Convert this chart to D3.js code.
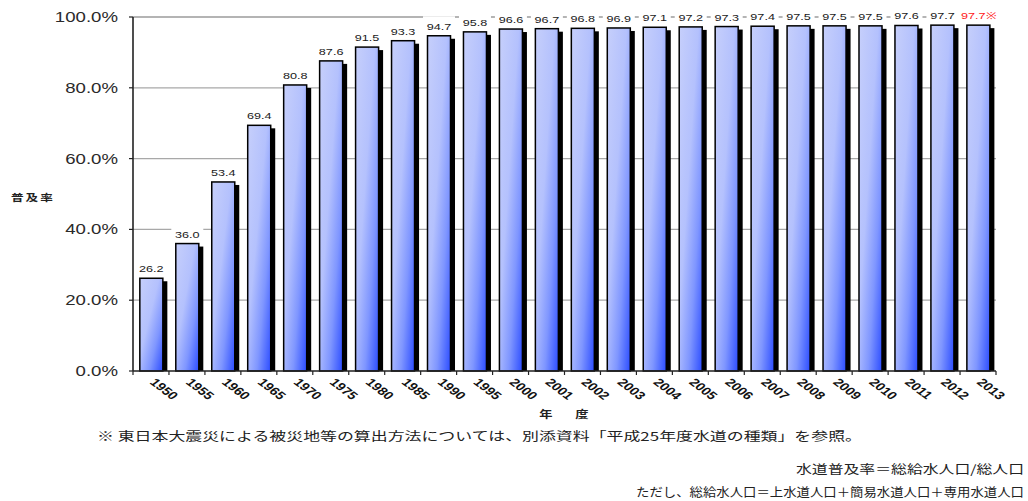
<!DOCTYPE html>
<html>
<head>
<meta charset="utf-8">
<script src="https://cdn.jsdelivr.net/npm/d3@7"></script>
<style>
  html, body { margin: 0; padding: 0; background: #fff; }
  svg { display: block; }
</style>
</head>
<body>
<svg id="chart" width="1028" height="501"></svg>
<script>
// 年度ごとの水道普及率 (%)
const categories = ["1950","1955","1960","1965","1970","1975","1980","1985","1990","1995","2000",
  "2001","2002","2003","2004","2005","2006","2007","2008","2009","2010","2011","2012","2013"];
const values = [26.2,36.0,53.4,69.4,80.8,87.6,91.5,93.3,94.7,95.8,96.6,
  96.7,96.8,96.9,97.1,97.2,97.3,97.4,97.5,97.5,97.5,97.6,97.7,97.7];
const valueNotes = ["","","","","","","","","","","","","","","","","","","","","","","","※"];
const yTicks = [0, 20, 40, 60, 80, 100];
const yTitle = "普及率";
const xTitle = ["年", "度"];
const footnote = "※ 東日本大震災による被災地等の算出方法については、別添資料「平成25年度水道の種類」を参照。";
const formulaLines = ["水道普及率＝総給水人口/総人口", "ただし、総給水人口＝上水道人口＋簡易水道人口＋専用水道人口"];

const svg = d3.select("#chart");
const SX = 1.33; // horizontal stretch of the lettering

const plot = { left: 133, right: 996, top: 17, bottom: 371 };
const x = d3.scaleBand().domain(categories).range([plot.left, plot.right]);
const y = d3.scaleLinear().domain([0, 100]).range([plot.bottom, plot.top]);
const bw = x.bandwidth();
const barW = bw * 0.64, barOff = bw * 0.19;

// gradient for the bars
const defs = svg.append("defs");
const grad = defs.append("linearGradient").attr("id", "barFill")
  .attr("x1", 0).attr("y1", 0).attr("x2", 1).attr("y2", 1);
grad.append("stop").attr("offset", 0).attr("stop-color", "#c6cffb");
grad.append("stop").attr("offset", 0.42).attr("stop-color", "#b4c1fd");
grad.append("stop").attr("offset", 0.7).attr("stop-color", "#7f96ff");
grad.append("stop").attr("offset", 1).attr("stop-color", "#2b4cff");

// stretched text helper
function stext(parent, tx, ty, str, opts = {}) {
  const g = parent.append("g")
    .attr("transform", `translate(${tx},${ty}) scale(${opts.sx || SX},1)` + (opts.rotate ? ` rotate(${opts.rotate})` : ""));
  const t = g.append("text")
    .attr("x", 0).attr("y", 0)
    .attr("text-anchor", opts.anchor || "start")
    .attr("font-family", opts.family || "'Liberation Sans', Arial, sans-serif")
    .attr("font-size", opts.size || 12)
    .attr("font-weight", opts.weight || "normal")
    .attr("fill", opts.fill || "#222")
    .text(str);
  return { g, t };
}

// gridlines
svg.append("g").selectAll("line").data(yTicks.filter(d => d > 0)).join("line")
  .attr("x1", plot.left).attr("x2", plot.right)
  .attr("y1", d => y(d)).attr("y2", d => y(d))
  .attr("stroke", d => d === 100 ? "#6a6a6a" : "#a8a8a8").attr("stroke-width", 1.2);

// y axis
const yAxis = svg.append("g");
yAxis.append("line").attr("x1", plot.left).attr("x2", plot.left)
  .attr("y1", y(100)).attr("y2", y(0)).attr("stroke", "#222").attr("stroke-width", 1.6);
yAxis.selectAll("line.tick").data(yTicks).join("line").attr("class", "tick")
  .attr("x1", plot.left - 4).attr("x2", plot.left)
  .attr("y1", d => y(d)).attr("y2", d => y(d)).attr("stroke", "#222").attr("stroke-width", 1.2);
yTicks.forEach(d => {
  stext(yAxis, 118, y(d) + 5, d.toFixed(1) + "%", { anchor: "end", size: 14, fill: "#2a2a2a" });
});

// bars: shadow, then gradient body
const bars = svg.append("g");
bars.selectAll("rect.shadow").data(values).join("rect").attr("class", "shadow")
  .attr("x", (d, i) => x(categories[i]) + barOff + 4.5)
  .attr("y", d => y(d) + 3)
  .attr("width", barW)
  .attr("height", d => y(0) - y(d) - 3)
  .attr("fill", "#000");
bars.selectAll("rect.bar").data(values).join("rect").attr("class", "bar")
  .attr("x", (d, i) => x(categories[i]) + barOff)
  .attr("y", d => y(d))
  .attr("width", barW)
  .attr("height", d => y(0) - y(d))
  .attr("fill", "url(#barFill)")
  .attr("stroke", "#000").attr("stroke-width", 1.5);

// x axis line and boundary ticks
const xAxis = svg.append("g");
xAxis.append("line").attr("x1", plot.left).attr("x2", plot.right)
  .attr("y1", y(0)).attr("y2", y(0)).attr("stroke", "#222").attr("stroke-width", 1.6);
xAxis.selectAll("line.tick").data(categories.concat([null])).join("line").attr("class", "tick")
  .attr("x1", (d) => d === null ? plot.right : x(d))
  .attr("x2", (d) => d === null ? plot.right : x(d))
  .attr("y1", y(0)).attr("y2", y(0) + 4).attr("stroke", "#222").attr("stroke-width", 1.2);
categories.forEach(c => {
  stext(xAxis, x(c) + bw / 2 - 2, y(0) + 12, c, { rotate: 45, size: 11, weight: "bold", fill: "#111" });
});

// value labels on white boxes
const labels = svg.append("g");
values.forEach((v, i) => {
  const cx = x(categories[i]) + barOff + barW / 2;
  const by = y(v) - 6;
  const note = valueNotes[i];
  const { g, t } = stext(labels, cx, by, v.toFixed(1) + note, {
    anchor: "middle", size: 9.5, fill: note ? "#ff2020" : "#1a1a1a"
  });
  const bb = t.node().getBBox();
  g.insert("rect", "text")
    .attr("x", bb.x - 2.8).attr("y", bb.y - 5)
    .attr("width", bb.width + 5.6).attr("height", bb.height + 7)
    .attr("fill", "#fff");
});

// titles and notes
const cjk = "'Noto Sans CJK JP', sans-serif";
const ytl = stext(svg, 11, 201, yTitle, { size: 9.5, weight: "bold", family: cjk, fill: "#222" });
ytl.t.attr("letter-spacing", 1.5);
stext(svg, 546, 418, xTitle[0], { anchor: "middle", size: 10, weight: "bold", family: cjk });
stext(svg, 582, 418, xTitle[1], { anchor: "middle", size: 10, weight: "bold", family: cjk });

svg.append("text").attr("x", 97).attr("y", 441)
  .attr("font-family", cjk).attr("font-size", 12).attr("fill", "#222")
  .attr("textLength", 765).attr("lengthAdjust", "spacingAndGlyphs")
  .text(footnote);
svg.append("text").attr("x", 1024).attr("y", 474).attr("text-anchor", "end")
  .attr("font-family", cjk).attr("font-size", 12).attr("fill", "#222")
  .attr("textLength", 228).attr("lengthAdjust", "spacingAndGlyphs")
  .text(formulaLines[0]);
svg.append("text").attr("x", 1024).attr("y", 497).attr("text-anchor", "end")
  .attr("font-family", cjk).attr("font-size", 12).attr("fill", "#222")
  .attr("textLength", 388).attr("lengthAdjust", "spacingAndGlyphs")
  .text(formulaLines[1]);
</script>
</body>
</html>
